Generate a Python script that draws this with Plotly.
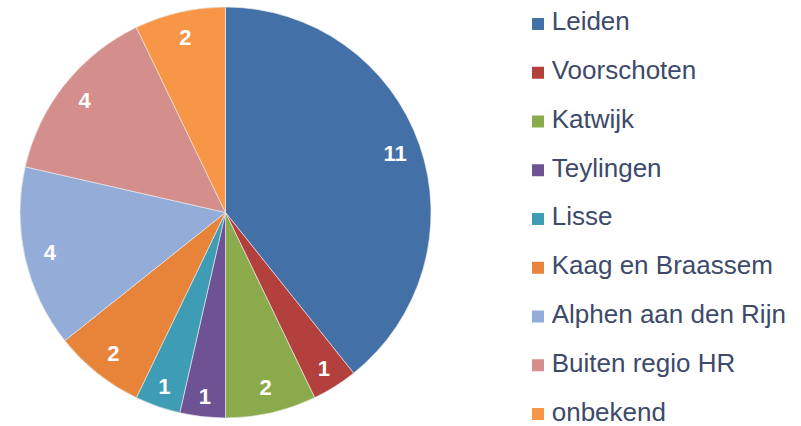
import plotly.graph_objects as go

categories = ["Leiden", "Voorschoten", "Katwijk", "Teylingen", "Lisse",
              "Kaag en Braassem", "Alphen aan den Rijn", "Buiten regio HR", "onbekend"]
values = [11, 1, 2, 1, 1, 2, 4, 4, 2]
colors = ["#4470A8", "#B4403E", "#8BAA4C", "#6E5294", "#3E9CB4",
          "#E8843A", "#94ADD8", "#D48E8C", "#F79646"]

W, H = 801, 426
pie_dom = dict(x=[20 / W, 431 / W], y=[(H - 418) / H, (H - 7) / H])

fig = go.Figure()
fig.add_trace(go.Pie(
    labels=categories, values=values, sort=False, direction="clockwise",
    rotation=0, marker=dict(colors=colors, line=dict(color="#eeeeee", width=0.6)),
    textinfo="none", showlegend=False, hoverinfo="label+value",
    domain=pie_dom,
))
# transparent ring on top: places the value labels near the outer edge ("inside end")
fig.add_trace(go.Pie(
    labels=categories, values=values, sort=False, direction="clockwise",
    rotation=0, hole=0.75,
    marker=dict(colors=["rgba(0,0,0,0)"] * len(values), line=dict(width=0)),
    textinfo="value", textposition="inside", insidetextorientation="horizontal",
    textfont=dict(family="Liberation Sans", size=22, color="white", weight="bold"),
    showlegend=False, hoverinfo="skip", domain=pie_dom,
))
# legend drawn as markers + text
fig.add_trace(go.Scatter(
    x=[0] * len(categories), y=categories, mode="markers+text",
    text=["\u2009" + c for c in categories], textposition="middle right",
    marker=dict(symbol="square", size=12, color=colors),
    textfont=dict(family="Liberation Sans", size=26, color="#3D4A6A"),
    cliponaxis=False, showlegend=False, hoverinfo="skip",
))

fig.update_layout(
    width=W, height=H, margin=dict(l=0, r=0, t=0, b=0),
    paper_bgcolor="white", plot_bgcolor="rgba(0,0,0,0)",
    showlegend=False,
    xaxis=dict(domain=[538 / W, 1], range=[0, 1], visible=False, fixedrange=True),
    yaxis=dict(domain=[0, 1], type="category", range=[8 + 12 / 48.8, -24 / 48.8],
               visible=False, fixedrange=True),
)
fig.write_html("out.html", config={"displayModeBar": False},
               post_script="document.body.style.margin='0';")
